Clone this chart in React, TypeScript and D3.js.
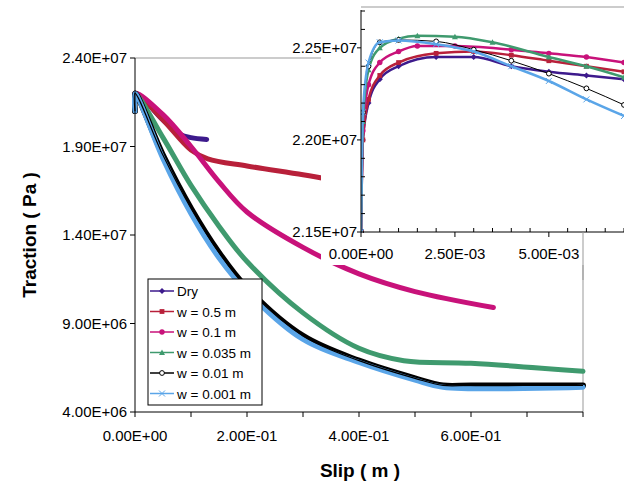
import React from 'react';
import * as d3 from 'd3';

type P = [number, number];
const names = ['Dry', 'w = 0.5 m', 'w = 0.1 m', 'w = 0.035 m', 'w = 0.01 m', 'w = 0.001 m'];
const colors = ['#3d1a8c', '#b8203a', '#c8127a', '#3f9a6e', '#000000', '#5aa5e8'];
const shapes = ['diamond', 'square', 'circle', 'triangle', 'ring', 'cross'];

// main chart: slip (m), traction (Pa)
const mainDry: P[] = [[0, 2.1e7], [0, 2.2e7], [0.02, 2.15e7], [0.05, 2.05e7], [0.08, 1.97e7], [0.1, 1.95e7], [0.128, 1.94e7]];
const main05: P[] = [[0, 2.1e7], [0, 2.2e7], [0.05, 2.05e7], [0.1, 1.88e7], [0.13, 1.83e7], [0.2, 1.79e7], [0.3, 1.74e7], [0.354, 1.71e7]];
const main01: P[] = [[0, 2.1e7], [0, 2.2e7], [0.05, 2.08e7], [0.1, 1.9e7], [0.15, 1.7e7], [0.2, 1.53e7], [0.3, 1.33e7], [0.4, 1.18e7], [0.5, 1.08e7], [0.64, 9.9e6]];
const main0035: P[] = [[0, 2.1e7], [0, 2.2e7], [0.05, 1.95e7], [0.1, 1.68e7], [0.15, 1.45e7], [0.2, 1.25e7], [0.3, 9.6e6], [0.4, 7.6e6], [0.48, 6.9e6], [0.6, 6.75e6], [0.8, 6.3e6]];
const main001: P[] = [[0, 2.1e7], [0, 2.2e7], [0.05, 1.85e7], [0.1, 1.55e7], [0.15, 1.3e7], [0.2, 1.1e7], [0.3, 8.3e6], [0.4, 6.9e6], [0.5, 5.9e6], [0.55, 5.5e6], [0.6, 5.5e6], [0.8, 5.5e6]];
const main0001: P[] = [[0, 2.1e7], [0, 2.2e7], [0.05, 1.83e7], [0.1, 1.52e7], [0.15, 1.27e7], [0.2, 1.08e7], [0.3, 8.1e6], [0.4, 6.8e6], [0.5, 5.8e6], [0.55, 5.4e6], [0.8, 5.4e6]];
const mainSeries = [mainDry, main05, main01, main0035, main001, main0001];

// inset: slip (m), traction (Pa)
const inDry: P[] = [[0, 2.15e7], [0.00005, 2.2e7], [0.0002, 2.22e7], [0.0005, 2.233e7], [0.001, 2.24e7], [0.002, 2.245e7], [0.003, 2.245e7], [0.004, 2.24e7], [0.005, 2.237e7], [0.006, 2.235e7], [0.007, 2.233e7]];
const in05: P[] = [[0, 2.15e7], [0.00005, 2.2e7], [0.0002, 2.222e7], [0.0005, 2.235e7], [0.001, 2.242e7], [0.002, 2.247e7], [0.003, 2.248e7], [0.004, 2.246e7], [0.005, 2.243e7], [0.006, 2.24e7], [0.007, 2.237e7]];
const in01: P[] = [[0, 2.15e7], [0.00005, 2.205e7], [0.0002, 2.23e7], [0.0005, 2.242e7], [0.001, 2.248e7], [0.0015, 2.251e7], [0.0025, 2.251e7], [0.004, 2.249e7], [0.005, 2.247e7], [0.006, 2.245e7], [0.007, 2.242e7]];
const in0035: P[] = [[0, 2.15e7], [0.00005, 2.21e7], [0.0002, 2.238e7], [0.0005, 2.25e7], [0.001, 2.255e7], [0.0015, 2.2565e7], [0.0025, 2.256e7], [0.0035, 2.253e7], [0.005, 2.245e7], [0.006, 2.24e7], [0.007, 2.234e7]];
const in001: P[] = [[0, 2.15e7], [0.00005, 2.215e7], [0.0002, 2.24e7], [0.0005, 2.253e7], [0.001, 2.2543e7], [0.002, 2.2535e7], [0.003, 2.249e7], [0.004, 2.243e7], [0.005, 2.236e7], [0.006, 2.228e7], [0.007, 2.219e7]];
const in0001: P[] = [[0, 2.15e7], [0.00005, 2.215e7], [0.0002, 2.242e7], [0.0005, 2.253e7], [0.001, 2.254e7], [0.002, 2.252e7], [0.003, 2.248e7], [0.004, 2.24e7], [0.005, 2.232e7], [0.006, 2.222e7], [0.007, 2.213e7]];
const insetSeries = [inDry, in05, in01, in0035, in001, in0001];

const mainYTicks = [4e6, 9e6, 1.4e7, 1.9e7, 2.4e7];
const mainYLabels = ['4.00E+06', '9.00E+06', '1.40E+07', '1.90E+07', '2.40E+07'];
const mainXTicks = [0, 0.2, 0.4, 0.6];
const mainXLabels = ['0.00E+00', '2.00E-01', '4.00E-01', '6.00E-01'];
const inYTicks = [2.15e7, 2.2e7, 2.25e7];
const inYLabels = ['2.15E+07', '2.20E+07', '2.25E+07'];
const inXTicks = [0, 0.0025, 0.005];
const inXLabels = ['0.00E+00', '2.50E-03', '5.00E-03'];

const Marker = ({ shape, x, y, c, s }: { shape: string; x: number; y: number; c: string; s: number }) => {
  if (shape === 'diamond') return <path d={`M${x},${y - s}L${x + s},${y}L${x},${y + s}L${x - s},${y}Z`} fill={c} />;
  if (shape === 'square') return <rect x={x - s * 0.8} y={y - s * 0.8} width={s * 1.6} height={s * 1.6} fill={c} />;
  if (shape === 'circle') return <circle cx={x} cy={y} r={s * 0.9} fill={c} />;
  if (shape === 'triangle') return <path d={`M${x},${y - s}L${x + s},${y + s * 0.8}L${x - s},${y + s * 0.8}Z`} fill={c} />;
  if (shape === 'ring') return <circle cx={x} cy={y} r={s * 0.8} fill="white" stroke={c} strokeWidth={1} />;
  return <path d={`M${x - s},${y - s}L${x + s},${y + s}M${x - s},${y + s}L${x + s},${y - s}`} stroke={c} strokeWidth={1} />;
};

const App = () => {
  const W = 624, H = 490;
  const x = d3.scaleLinear().domain([0, 0.8]).range([135, 583]);
  const y = d3.scaleLinear().domain([4e6, 2.4e7]).range([412, 58]);
  const xi = d3.scaleLinear().domain([0, 0.007]).range([361, 624]);
  const yi = d3.scaleLinear().domain([2.15e7, 2.27e7]).range([232, 11]);
  const lm = d3.line<P>().x(d => x(d[0])).y(d => y(d[1])).curve(d3.curveCatmullRom);
  const li = d3.line<P>().x(d => xi(d[0])).y(d => yi(d[1])).curve(d3.curveMonotoneX);
  const font = 'Arial, "Liberation Sans", sans-serif';
  return (
    <svg width={W} height={H} style={{ position: 'absolute', left: 0, top: 0 }} fontFamily={font}>
      <rect width={W} height={H} fill="white" />
      <path d={`M135,58H583V412`} fill="none" stroke="#999" />
      <defs>
        <clipPath id="mc"><rect x={132} y={55} width={460} height={360} /></clipPath>
        <clipPath id="ic"><rect x={361} y={7} width={263} height={226} /></clipPath>
      </defs>
      <g clipPath="url(#mc)">
        {mainSeries.map((s, i) => (
          <path key={i} d={lm(s)!} fill="none" stroke={colors[i]} strokeWidth={i === 4 ? 6 : 5} strokeLinejoin="round" strokeLinecap="round" />
        ))}
        <path d={lm(main001)!} fill="none" stroke="#000" strokeWidth={1.2} />
      </g>
      <line x1={135} x2={135} y1={58} y2={412} stroke="#000" />
      <line x1={135} x2={583} y1={412} y2={412} stroke="#000" />
      {mainYTicks.map((t, i) => (
        <g key={i}>
          <line x1={130} x2={135} y1={y(t)} y2={y(t)} stroke="#000" />
          <text x={127} y={y(t) + 5} textAnchor="end" fontSize={15}>{mainYLabels[i]}</text>
        </g>
      ))}
      {d3.range(0, 0.81, 0.1).map((t, i) => (
        <line key={i} x1={x(t)} x2={x(t)} y1={412} y2={417} stroke="#000" />
      ))}
      {mainXTicks.map((t, i) => (
        <text key={i} x={x(t)} y={441} textAnchor="middle" fontSize={15}>{mainXLabels[i]}</text>
      ))}
      <text x={360} y={477} textAnchor="middle" fontSize={19} fontWeight="bold">Slip ( m )</text>
      <text transform="translate(36,235) rotate(-90)" textAnchor="middle" fontSize={19} fontWeight="bold">Traction ( Pa )</text>

      <rect x={321} y={7} width={303} height={258} fill="white" />
      <line x1={361} x2={624} y1={7} y2={7} stroke="#999" />
      <g clipPath="url(#ic)">
        {insetSeries.map((s, i) => (
          <g key={i}>
            <path d={li(s)!} fill="none" stroke={colors[i]} strokeWidth={i === 4 ? 1 : 2.5} />
            {s.map((p, j) => <Marker key={j} shape={shapes[i]} x={xi(p[0])} y={yi(p[1])} c={colors[i]} s={3} />)}
          </g>
        ))}
      </g>
      <line x1={361} x2={361} y1={10} y2={232} stroke="#000" />
      <line x1={361} x2={624} y1={232} y2={232} stroke="#000" />
      {d3.range(2.15e7, 2.271e7, 0.01e7).map((t, i) => (
        <line key={i} x1={361} x2={i % 5 === 0 ? 357 : 365} y1={yi(t)} y2={yi(t)} stroke="#000" />
      ))}
      {inYTicks.map((t, i) => (
        <text key={i} x={357} y={yi(t) + 5} textAnchor="end" fontSize={15}>{inYLabels[i]}</text>
      ))}
      {d3.range(0, 0.0071, 0.0005).map((t, i) => (
        <line key={i} x1={xi(t)} x2={xi(t)} y1={232} y2={i % 5 === 0 ? 237 : 228} stroke="#000" />
      ))}
      {inXTicks.map((t, i) => (
        <text key={i} x={xi(t)} y={259} textAnchor="middle" fontSize={15}>{inXLabels[i]}</text>
      ))}
      <line x1={583} x2={583} y1={232} y2={280} stroke="#999" />

      <rect x={148} y={279} width={114} height={126} fill="white" stroke="#000" />
      {names.map((n, i) => (
        <g key={i}>
          <line x1={150} x2={174} y1={291 + i * 20.5} y2={291 + i * 20.5} stroke={colors[i]} strokeWidth={1.5} />
          <Marker shape={shapes[i]} x={162} y={291 + i * 20.5} c={colors[i]} s={3} />
          <text x={177} y={296 + i * 20.5} fontSize={13.5}>{n}</text>
        </g>
      ))}
    </svg>
  );
};
export default App;
